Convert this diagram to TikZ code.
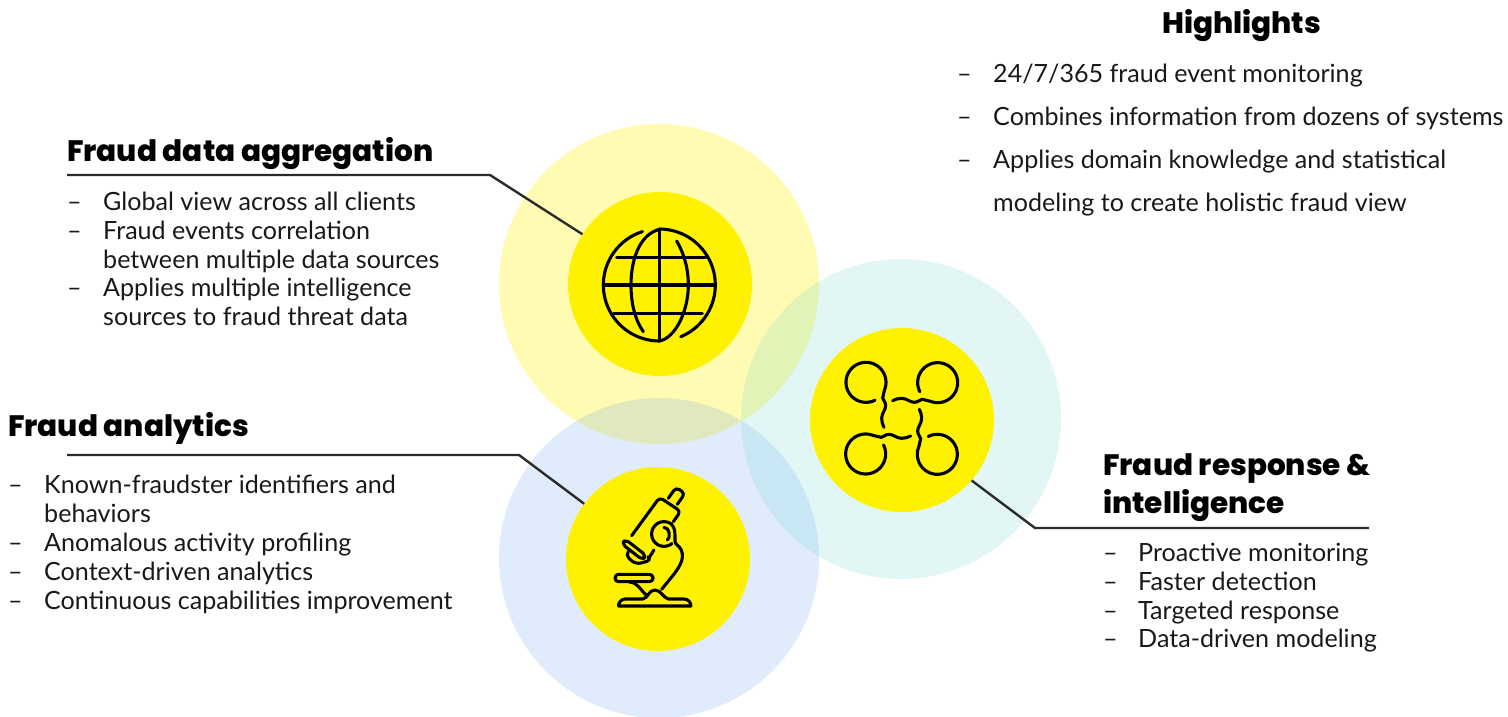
\documentclass[tikz,border=0pt]{standalone}
\usepackage{fontspec}
\setmainfont{Lato}
\newfontfamily\headfont{Poppins}[BoldFont={* ExtraBold}]
\definecolor{coreY}{HTML}{FFF200}
\definecolor{haloY}{HTML}{FFF200}
\definecolor{haloT}{HTML}{5FD0CB}
\definecolor{haloB}{HTML}{5C96F0}
\definecolor{ink}{HTML}{000000}
\definecolor{rule}{HTML}{2B2B2B}
\tikzset{
  x=1pt,y=-1pt,
  halo/.style={circle,minimum size=320pt,inner sep=0pt,draw=none},
  core/.style={circle,minimum size=184pt,inner sep=0pt,fill=coreY,draw=none},
  head/.style={anchor=base west,inner sep=0pt,font=\headfont\bfseries\fontsize{29.5}{32}\selectfont,text=black},
  body/.style={anchor=base west,inner sep=0pt,font=\fontsize{25.1}{28}\selectfont,text=black!90},
  conn/.style={draw=rule,line width=2.4pt,line join=round},
  icon/.style={draw=ink,line width=3.1pt,line cap=round,line join=round},
  micro/.style={draw=ink,line width=3.1pt,line cap=round,line join=round}
}
\begin{document}
\begin{tikzpicture}
\useasboundingbox (0,0) rectangle (1508,717);
\begin{scope}
\clip (0,0) rectangle (1508,717);
\node[halo,fill=haloY,fill opacity=.3] (haloA) at (659,284) {};
\node[halo,fill=haloB,fill opacity=.19] (haloB) at (659,558) {};
\node[halo,fill=haloT,fill opacity=.19] (haloC) at (901,419) {};
\end{scope}
\node[core] (coreA) at (660,284) {};
\node[core] (coreB) at (658,559) {};
\node[core] (coreC) at (902,420) {};
% connectors
\coordinate (startA) at (67,175);
\coordinate (bendA) at (490,175);
\coordinate (startB) at (67,455);
\coordinate (bendB) at (519,455);
\coordinate (startC) at (1369,528);
\coordinate (bendC) at (1035,528);
\draw[conn] (startA) -- (bendA) -- (coreA);
\draw[conn] (startB) -- (bendB) -- (coreB);
\draw[conn] (startC) -- (bendC) -- (coreC.-41);
% globe
\begin{scope}[shift={(570,190)},x=.3333pt,y=-.3333pt]
\draw[icon] plot[smooth,domain=107.5:270,samples=40] ({268+168*cos(\x)},{285-168*sin(\x)});
\draw[icon] plot[smooth,domain=90:-67.5,samples=40] ({268+168*cos(\x)},{285-168*sin(\x)});
\draw[icon] (268,118) .. controls (205,135) and (183,215) .. (183,285) .. controls (183,340) and (195,390) .. (220,425);
\draw[icon] (320,153) .. controls (342,190) and (355,235) .. (355,285) .. controls (355,365) and (315,445) .. (268,453);
\draw[icon] (268,118) -- (268,453);
\draw[icon] (100,285) -- (435,285);
\draw[icon] (140,203) -- (408,203);
\draw[icon] (130,370) -- (397,370);
\end{scope}
% network
\begin{scope}[shift={(810,330)},x=.3333pt,y=-.3333pt]
\foreach \a in {0,-90,-180,-270}{
\draw[icon,rotate around={\a:(275,265)}] plot[smooth,domain=-63:-382,samples=60] ({168+60*cos(\x)},{157-60*sin(\x)})
 .. controls (224,190) and (217,195) .. (218,204) .. controls (219,212) and (227,215) .. (227,227) .. controls (227,240) and (215,250) .. (215,265) .. controls (215,275) and (218,285) .. (222,292);
}
\end{scope}
% microscope
\begin{scope}[shift={(590,470)},x=.3333pt,y=-.3333pt]
\draw[micro,rounded corners=4pt] (235,85) -- (258,52) -- (285,70) -- (262,103);
\draw[micro,rounded corners=4pt] (125,197) -- (209,82) -- (272,124) -- (250,155);
\draw[micro,rounded corners=4pt] (106,208) -- (168,256) -- (158,270) -- (96,222) -- cycle;
\draw[micro,rounded corners=5pt] (118,240) -- (106,256) -- (138,283) -- (186,270) -- (176,262);
\draw[micro] (178,262) -- (192,240);
\draw[icon] plot[smooth,domain=-50:-310,samples=50] ({222+37*cos(\x)},{192-37*sin(\x)});
\draw[icon] (222,172) .. controls (240,172) and (242,205) .. (232,210) ;
\draw[icon] (246,164) .. controls (262,185) and (250,215) .. (258,222) .. controls (272,232) and (279,245) .. (277,262) .. controls (275,290) and (245,320) .. (215,358);
\draw[icon] (178,313) -- (85,313) .. controls (72,313) and (72,335) .. (85,335) -- (178,335) .. controls (193,335) and (193,313) .. (178,313);
\draw[icon] (118,336) .. controls (145,338) and (150,360) .. (172,378);
\draw[icon] (85,408) -- (303,408) .. controls (303,398) and (295,387) .. (282,387) -- (235,387) .. controls (222,385) and (212,360) .. (195,360) .. controls (175,360) and (175,385) .. (158,387) -- (105,387) .. controls (95,387) and (85,398) .. (85,408);
\end{scope}
% headings
\node[head] (tHigh) at (1162,34) {Highlights};
\node[head] (tAgg) at (67,161) {Fraud data aggregation};
\node[head] (tAna) at (8,436) {Fraud analytics};
\node[head] (tRes) at (1103,475) {Fraud response \&};
\node[head] (tRes2) at (1103,513) {intelligence};
% Highlights list
\node[body] (h1d) at (957,82) {–}; \node[body] (h1) at (993,82) {24/7/365 fraud event monitoring};
\node[body] (h2d) at (957,125) {–}; \node[body] (h2) at (993,125) {Combines information from dozens of systems};
\node[body] (h3d) at (957,168) {–}; \node[body] (h3) at (993,168) {Applies domain knowledge and statistical};
\node[body] (h4) at (993,211) {modeling to create holistic fraud view};
% aggregation list
\node[body] (a1d) at (67,210) {–}; \node[body] (a1) at (103,210) {Global view across all clients};
\node[body] (a2d) at (67,239) {–}; \node[body] (a2) at (103,239) {Fraud events correlation};
\node[body] (a3) at (103,268) {between multiple data sources};
\node[body] (a4d) at (67,296) {–}; \node[body] (a4) at (103,296) {Applies multiple intelligence};
\node[body] (a5) at (103,325) {sources to fraud threat data};
% analytics list
\node[body] (b1d) at (8,493) {–}; \node[body] (b1) at (44,493) {Known-fraudster identifiers and};
\node[body] (b2) at (44,522) {behaviors};
\node[body] (b3d) at (8,551) {–}; \node[body] (b3) at (44,551) {Anomalous activity profiling};
\node[body] (b4d) at (8,580) {–}; \node[body] (b4) at (44,580) {Context-driven analytics};
\node[body] (b5d) at (8,609) {–}; \node[body] (b5) at (44,609) {Continuous capabilities improvement};
% response list
\node[body] (c1d) at (1103,561) {–}; \node[body] (c1) at (1138,561) {Proactive monitoring};
\node[body] (c2d) at (1103,590) {–}; \node[body] (c2) at (1138,590) {Faster detection};
\node[body] (c3d) at (1103,619) {–}; \node[body] (c3) at (1138,619) {Targeted response};
\node[body] (c4d) at (1103,647) {–}; \node[body] (c4) at (1138,647) {Data-driven modeling};
\end{tikzpicture}
\end{document}
